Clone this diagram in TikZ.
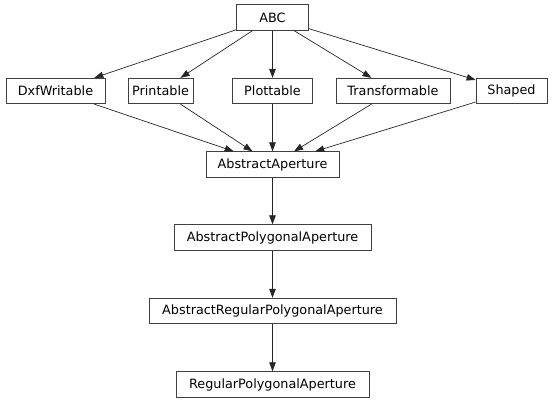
\documentclass[tikz,border=0pt]{standalone}
\usepackage{fontspec}
\setmainfont{DejaVu Sans}
\usetikzlibrary{arrows.meta}
\definecolor{edgec}{HTML}{262626}
\definecolor{boxc}{HTML}{404040}
\tikzset{
  cls/.style={draw=boxc, line width=0.8pt, minimum height=25.5pt, inner sep=0pt,
    font=\fontsize{12.8}{15}\selectfont, text=black},
  inh/.style={draw=edgec, line width=0.7pt, -{Triangle[length=9pt,width=6.5pt]}}
}
\begin{document}
\begin{tikzpicture}[x=1pt,y=-1pt]
\useasboundingbox (0,0) rectangle (553,403);
\node[cls, minimum width=72pt] (abc) at (272.5,17.5) {ABC};
\node[cls, minimum width=99pt] (dxf) at (55.5,91) {DxfWritable};
\node[cls, minimum width=65pt] (prn) at (160.5,91) {Printable};
\node[cls, minimum width=80pt] (plt) at (272.5,91) {Plottable};
\node[cls, minimum width=114pt] (trf) at (393,91) {Transformable};
\node[cls, minimum width=71pt] (shp) at (511.5,91) {Shaped};
\node[cls, minimum width=133pt] (aa) at (272.5,164.5) {AbstractAperture};
\node[cls, minimum width=197pt] (apa) at (272.5,237.5) {AbstractPolygonalAperture};
\node[cls, minimum width=247pt] (arpa) at (272.5,311) {AbstractRegularPolygonalAperture};
\node[cls, minimum width=193pt] (rpa) at (272.5,384.5) {RegularPolygonalAperture};
\foreach \n in {dxf,prn,plt,trf,shp} {
  \draw[inh] (abc) -- (\n);
  \draw[inh] (\n) -- (aa);
}
\draw[inh] (aa) -- (apa);
\draw[inh] (apa) -- (arpa);
\draw[inh] (arpa) -- (rpa);
\end{tikzpicture}
\end{document}
